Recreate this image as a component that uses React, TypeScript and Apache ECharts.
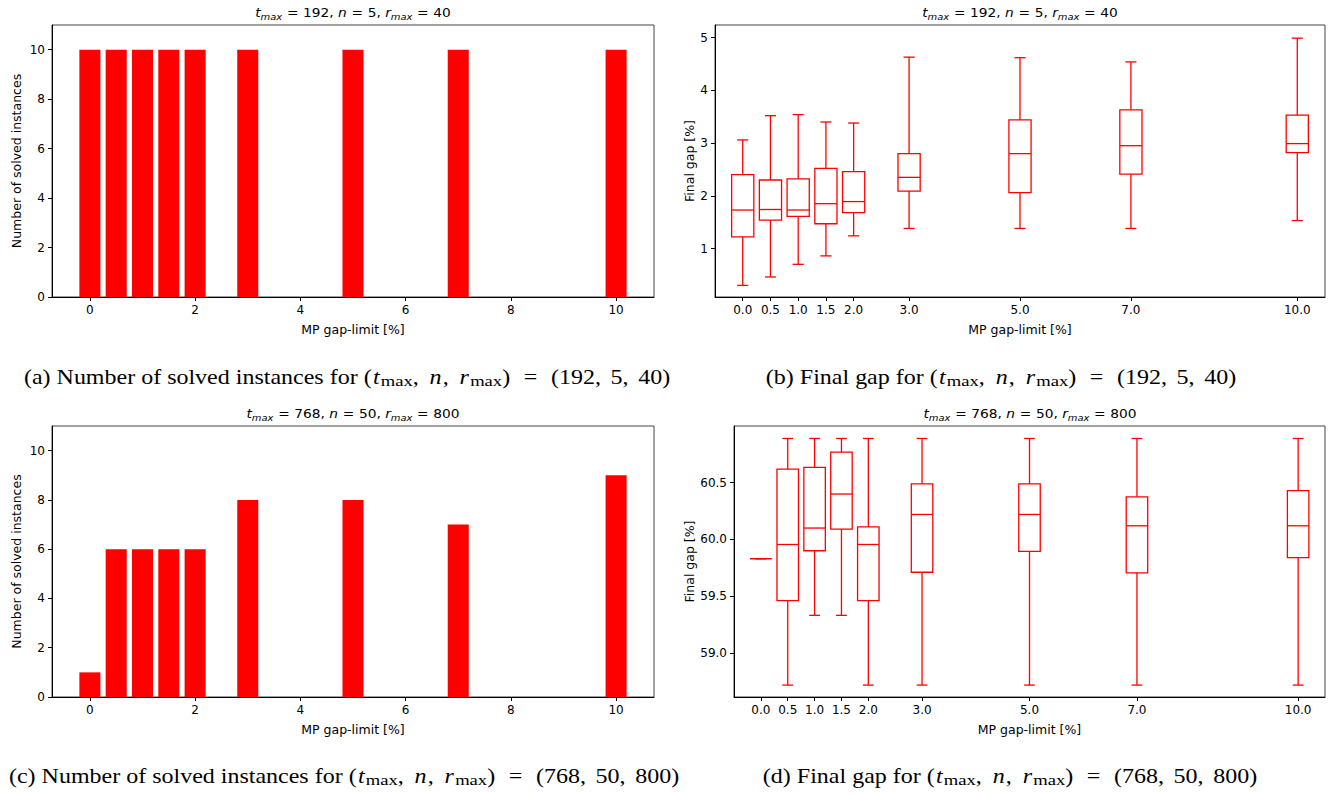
import React, { useEffect, useRef } from "react";
import * as echarts from "echarts";

// ---------- data ----------
const barPositions = [0, 0.5, 1, 1.5, 2, 3, 5, 7, 10];
const solvedSmall = [10, 10, 10, 10, 10, 10, 10, 10, 10];
const solvedLarge = [1, 6, 6, 6, 6, 8, 8, 7, 9];

const gapLimits = [0, 0.5, 1, 1.5, 2, 3, 5, 7, 10];
// [low whisker, Q1, median, Q3, high whisker]
const gapSmall = [
  [0.3, 1.22, 1.73, 2.4, 3.06],
  [0.46, 1.54, 1.74, 2.3, 3.52],
  [0.7, 1.61, 1.73, 2.32, 3.54],
  [0.86, 1.47, 1.85, 2.52, 3.4],
  [1.24, 1.68, 1.89, 2.46, 3.38],
  [1.38, 2.09, 2.35, 2.8, 4.63],
  [1.38, 2.06, 2.8, 3.44, 4.62],
  [1.38, 2.41, 2.95, 3.63, 4.54],
  [1.53, 2.82, 2.99, 3.53, 4.99],
];
const gapLarge = [
  [59.83, 59.83, 59.83, 59.83, 59.83],
  [58.715, 59.46, 59.955, 60.62, 60.89],
  [59.33, 59.9, 60.1, 60.635, 60.89],
  [59.33, 60.09, 60.4, 60.77, 60.89],
  [58.715, 59.46, 59.955, 60.11, 60.89],
  [58.715, 59.71, 60.22, 60.49, 60.89],
  [58.715, 59.895, 60.22, 60.49, 60.89],
  [58.715, 59.705, 60.12, 60.375, 60.89],
  [58.715, 59.84, 60.12, 60.43, 60.89],
];

const barTicks = [0, 2, 4, 6, 8, 10];
const smallGapTicks = [1, 2, 3, 4, 5];
const largeGapTicks = [59.0, 59.5, 60.0, 60.5];

const titleTop = "{i|t}{s|max}{eq|=}192, {i|n}{eq|=}5, {i|r}{s|max}{eq|=}40";
const titleBottom = "{i|t}{s|max}{eq|=}768, {i|n}{eq|=}50, {i|r}{s|max}{eq|=}800";
const mathTop = "({i|t}{s|max},{sp| }{i|n},{sp| }{i|r}{s|max}){eq|=}(192,{sp| }5,{sp| }40)";
const mathBottom = "({i|t}{s|max},{sp| }{i|n},{sp| }{i|r}{s|max}){eq|=}(768,{sp| }50,{sp| }800)";
const captionA = "(a) Number of solved instances for " + mathTop;
const captionB = "(b) Final gap for " + mathTop;
const captionC = "(c) Number of solved instances for " + mathBottom;
const captionD = "(d) Final gap for " + mathBottom;

const xName = "MP gap-limit [%]";
const yNameBar = "Number of solved instances";
const yNameGap = "Final gap [%]";

// ---------- styling ----------
const RED = "#ff0000";
const SANS = "DejaVu Sans";
const SERIF = "Liberation Serif";
const TICK_FONT = 12;
const NAME_FONT = 12.5;

const grids = [
  { left: 52, top: 25, width: 602, height: 272 },
  { left: 715, top: 25, width: 610, height: 272 },
  { left: 52, top: 426, width: 602, height: 271 },
  { left: 734, top: 426, width: 591, height: 271 },
];

function xAxis(gridIndex: number, min: number, max: number, ticks: number[], fmt: (v: number) => string) {
  return {
    type: "value",
    gridIndex,
    min,
    max,
    name: xName,
    nameLocation: "middle",
    nameGap: 26,
    nameTextStyle: { fontFamily: SANS, fontSize: NAME_FONT, color: "#000" },
    splitLine: { show: false },
    axisLine: { show: true, onZero: false, lineStyle: { color: "#000", width: 1 } },
    axisTick: { show: true, length: 4, customValues: ticks, lineStyle: { color: "#000", width: 1 } },
    axisLabel: {
      customValues: ticks,
      formatter: (v: number) => fmt(v),
      margin: 7,
      color: "#000",
      fontFamily: SANS,
      fontSize: TICK_FONT,
    },
  };
}

function yAxis(gridIndex: number, min: number, max: number, ticks: number[], fmt: (v: number) => string, name: string, nameGap: number) {
  return {
    type: "value",
    gridIndex,
    min,
    max,
    name,
    nameLocation: "middle",
    nameGap,
    nameTextStyle: { fontFamily: SANS, fontSize: NAME_FONT, color: "#000" },
    splitLine: { show: false },
    axisLine: { show: true, onZero: false, lineStyle: { color: "#000", width: 1 } },
    axisTick: { show: true, length: 4, customValues: ticks, lineStyle: { color: "#000", width: 1 } },
    axisLabel: {
      customValues: ticks,
      formatter: (v: number) => fmt(v),
      margin: 7,
      color: "#000",
      fontFamily: SANS,
      fontSize: TICK_FONT,
    },
  };
}

function barSeries(idx: number, values: number[]) {
  return {
    type: "custom",
    xAxisIndex: idx,
    yAxisIndex: idx,
    data: barPositions.map((p, i) => [p, values[i]]),
    renderItem: (_params: any, api: any) => {
      const x = api.value(0);
      const y = api.value(1);
      const p1 = api.coord([x - 0.2, y]);
      const p2 = api.coord([x + 0.2, 0]);
      return {
        type: "rect",
        shape: { x: p1[0], y: p1[1], width: p2[0] - p1[0], height: p2[1] - p1[1] },
        style: { fill: RED },
      };
    },
  };
}

function boxSeries(idx: number, stats: number[][]) {
  return {
    type: "custom",
    xAxisIndex: idx,
    yAxisIndex: idx,
    encode: { x: 0, y: [1, 2, 3, 4, 5] },
    data: gapLimits.map((p, i) => [p, ...stats[i]]),
    renderItem: (_params: any, api: any) => {
      const x = api.value(0);
      const lo = api.value(1);
      const q1 = api.value(2);
      const med = api.value(3);
      const q3 = api.value(4);
      const hi = api.value(5);
      const half = 0.2;
      const cap = 0.1;
      const st = { stroke: RED, lineWidth: 1.3, fill: "none" };
      const tl = api.coord([x - half, q3]);
      const br = api.coord([x + half, q1]);
      const mL = api.coord([x - half, med]);
      const mR = api.coord([x + half, med]);
      const c = api.coord([x, lo]);
      const q1p = api.coord([x, q1]);
      const q3p = api.coord([x, q3]);
      const h = api.coord([x, hi]);
      const loL = api.coord([x - cap, lo]);
      const loR = api.coord([x + cap, lo]);
      const hiL = api.coord([x - cap, hi]);
      const hiR = api.coord([x + cap, hi]);
      return {
        type: "group",
        children: [
          { type: "line", shape: { x1: c[0], y1: c[1], x2: q1p[0], y2: q1p[1] }, style: st },
          { type: "line", shape: { x1: q3p[0], y1: q3p[1], x2: h[0], y2: h[1] }, style: st },
          { type: "line", shape: { x1: loL[0], y1: loL[1], x2: loR[0], y2: loR[1] }, style: st },
          { type: "line", shape: { x1: hiL[0], y1: hiL[1], x2: hiR[0], y2: hiR[1] }, style: st },
          {
            type: "rect",
            shape: { x: tl[0], y: tl[1], width: br[0] - tl[0], height: br[1] - tl[1] },
            style: st,
          },
          { type: "line", shape: { x1: mL[0], y1: mL[1], x2: mR[0], y2: mR[1] }, style: st },
        ],
      };
    },
  };
}

const titleRich = {
  i: { fontFamily: SANS, fontSize: 12.5, fontStyle: "italic", lineHeight: 20, fill: "#000" },
  s: { fontFamily: SANS, fontSize: 9, fontStyle: "italic", lineHeight: 20, padding: [7, 0, 0, 0], fill: "#000" },
  eq: { fontFamily: SANS, fontSize: 12.5, lineHeight: 20, width: 19, align: "center", fill: "#000" },
};
const captionRich = {
  i: { fontFamily: SERIF, fontSize: 20, fontStyle: "italic", lineHeight: 28, padding: [0, 1, 0, 1], fill: "#000" },
  s: { fontFamily: SERIF, fontSize: 15.5, lineHeight: 28, padding: [9, 0, 0, 0], fill: "#000" },
  sp: { fontFamily: SERIF, fontSize: 20, lineHeight: 28, width: 8, fill: "#000" },
  eq: { fontFamily: SERIF, fontSize: 20, lineHeight: 28, width: 34, align: "center", fill: "#000" },
};

function titleText(text: string, x: number, y: number) {
  return {
    type: "text",
    x,
    y,
    scaleX: 1.1,
    style: {
      text,
      rich: titleRich,
      fontFamily: SANS,
      fontSize: 12.5,
      lineHeight: 20,
      fill: "#000",
      align: "center",
      verticalAlign: "middle",
    },
  };
}

function captionText(text: string, x: number, y: number) {
  return {
    type: "text",
    x,
    y,
    scaleX: 1.2,
    style: {
      text,
      rich: captionRich,
      fontFamily: SERIF,
      fontSize: 20,
      lineHeight: 28,
      fill: "#000",
      align: "center",
      verticalAlign: "middle",
    },
  };
}

const int = (v: number) => String(Math.round(v));
const one = (v: number) => v.toFixed(1);

export default function App() {
  const ref = useRef<HTMLDivElement>(null);
  useEffect(() => {
    if (!ref.current) return;
    const chart = echarts.init(ref.current, undefined, { renderer: "svg" });
    chart.setOption({
      animation: false,
      backgroundColor: "#fff",
      grid: grids.map((g) => ({ ...g, show: true, borderColor: "#444", borderWidth: 1, backgroundColor: "transparent" })),
      xAxis: [
        xAxis(0, -0.72, 10.72, barTicks, int),
        xAxis(1, -0.5, 10.5, gapLimits, one),
        xAxis(2, -0.72, 10.72, barTicks, int),
        xAxis(3, -0.5, 10.5, gapLimits, one),
      ],
      yAxis: [
        yAxis(0, 0, 11, barTicks, int, yNameBar, 29),
        yAxis(1, 0.08, 5.24, smallGapTicks, int, yNameGap, 19),
        yAxis(2, 0, 11, barTicks, int, yNameBar, 29),
        yAxis(3, 58.61, 61.0, largeGapTicks, one, yNameGap, 38),
      ],
      series: [
        barSeries(0, solvedSmall),
        boxSeries(1, gapSmall),
        barSeries(2, solvedLarge),
        boxSeries(3, gapLarge),
      ],
      graphic: [
        titleText(titleTop, 353, 13),
        titleText(titleTop, 1020, 13),
        titleText(titleBottom, 353, 414),
        titleText(titleBottom, 1030, 414),
        captionText(captionA, 347, 377),
        captionText(captionB, 1001, 377),
        captionText(captionC, 344, 776),
        captionText(captionD, 1010, 776),
      ],
    });
    return () => chart.dispose();
  }, []);
  return (
    <div
      ref={ref}
      style={{ position: "absolute", left: 0, top: 0, width: 1336, height: 794 }}
    />
  );
}
